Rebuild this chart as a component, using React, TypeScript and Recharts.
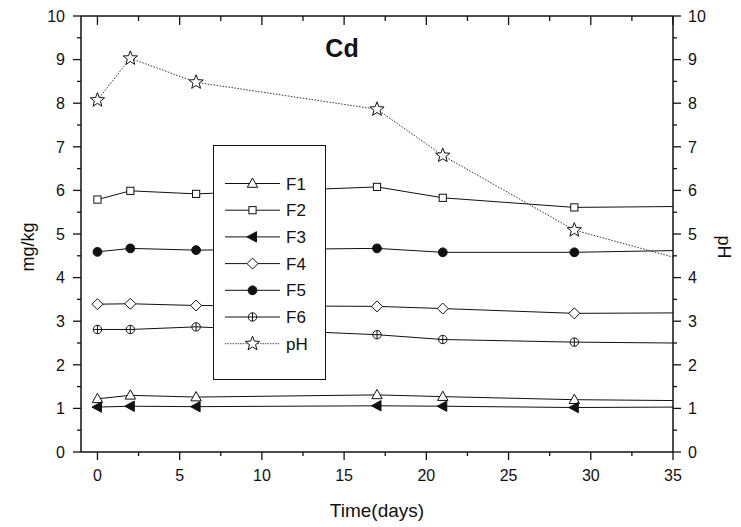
import React from 'react';
import { ComposedChart, Line, XAxis, YAxis, Legend, Label } from 'recharts';

// Sampling days and the measured fractions (mg/kg) plus pH
const days = [0, 2, 6, 17, 21, 29, 35];
const f1 = [1.22, 1.3, 1.26, 1.31, 1.27, 1.2, 1.18];
const f2 = [5.79, 5.99, 5.92, 6.08, 5.83, 5.61, 5.63];
const f3 = [1.03, 1.05, 1.04, 1.06, 1.05, 1.02, 1.03];
const f4 = [3.39, 3.4, 3.36, 3.34, 3.29, 3.18, 3.19];
const f5 = [4.59, 4.67, 4.63, 4.67, 4.58, 4.58, 4.62];
const f6 = [2.81, 2.81, 2.87, 2.69, 2.58, 2.52, 2.5];
const ph = [8.07, 9.03, 8.48, 7.86, 6.8, 5.09, 4.47];

const xTicks = [0, 2.5, 5, 7.5, 10, 12.5, 15, 17.5, 20, 22.5, 25, 27.5, 30, 32.5, 35];
const yTicks = [0, 0.5, 1, 1.5, 2, 2.5, 3, 3.5, 4, 4.5, 5, 5.5, 6, 6.5, 7, 7.5, 8, 8.5, 9, 9.5, 10];

const seriesNames = ['F1', 'F2', 'F3', 'F4', 'F5', 'F6', 'pH'];

const data = days.map((d, i) => ({
  day: d,
  F1: f1[i],
  F2: f2[i],
  F3: f3[i],
  F4: f4[i],
  F5: f5[i],
  F6: f6[i],
  pH: ph[i],
}));

const FONT = '"Liberation Sans", Arial, Helvetica, sans-serif';
const INK = '#111';

type MarkerKind = 'triUp' | 'square' | 'triLeft' | 'diamond' | 'circle' | 'circlePlus' | 'star';

const markerOf: Record<string, MarkerKind> = {
  F1: 'triUp',
  F2: 'square',
  F3: 'triLeft',
  F4: 'diamond',
  F5: 'circle',
  F6: 'circlePlus',
  pH: 'star',
};

function Marker({ kind, cx, cy }: { kind: MarkerKind; cx: number; cy: number }) {
  const s = { stroke: INK, strokeWidth: 1 };
  switch (kind) {
    case 'triUp':
      return (
        <polygon
          points={`${cx},${cy - 5.5} ${cx - 5.2},${cy + 3.8} ${cx + 5.2},${cy + 3.8}`}
          fill="#fff"
          {...s}
        />
      );
    case 'square':
      return <rect x={cx - 3.6} y={cy - 3.6} width={7.2} height={7.2} fill="#fff" {...s} />;
    case 'triLeft':
      return (
        <polygon
          points={`${cx - 5.5},${cy} ${cx + 4},${cy - 5.2} ${cx + 4},${cy + 5.2}`}
          fill={INK}
          {...s}
        />
      );
    case 'diamond':
      return (
        <polygon
          points={`${cx},${cy - 5.5} ${cx + 5.5},${cy} ${cx},${cy + 5.5} ${cx - 5.5},${cy}`}
          fill="#fff"
          {...s}
        />
      );
    case 'circle':
      return <circle cx={cx} cy={cy} r={4.4} fill={INK} {...s} />;
    case 'circlePlus':
      return (
        <g>
          <circle cx={cx} cy={cy} r={4.2} fill="#fff" {...s} />
          <line x1={cx - 4.2} y1={cy} x2={cx + 4.2} y2={cy} {...s} />
          <line x1={cx} y1={cy - 4.2} x2={cx} y2={cy + 4.2} {...s} />
        </g>
      );
    case 'star': {
      const pts: string[] = [];
      for (let k = 0; k < 10; k++) {
        const r = k % 2 === 0 ? 7.5 : 3.2;
        const a = -Math.PI / 2 + (k * Math.PI) / 5;
        pts.push(`${cx + r * Math.cos(a)},${cy + r * Math.sin(a)}`);
      }
      return <polygon points={pts.join(' ')} fill="#fff" {...s} />;
    }
  }
  return null;
}

// Markers on every sample except the last one, where the trace just ends
const makeDot = (name: string) => (props: any) => {
  const { cx, cy, index } = props;
  const key = `${name}-${index}`;
  if (index === days.length - 1 || cx == null || cy == null) return <g key={key} />;
  return (
    <g key={key}>
      <Marker kind={markerOf[name]} cx={cx} cy={cy} />
    </g>
  );
};

const MAJOR = 8;
const MINOR = 4;

const isMajorX = (v: number) => Math.abs(v % 5) < 1e-9;
const isMajorY = (v: number) => Math.abs(v % 1) < 1e-9;

const BottomTick = (p: any) => {
  const { x, y, payload } = p;
  const major = isMajorX(payload.value);
  return (
    <g>
      <line x1={x} y1={y} x2={x} y2={y + (major ? MAJOR : MINOR)} stroke={INK} strokeWidth={1.3} />
      {major && (
        <text x={x} y={y + 28.5} textAnchor="middle" fontFamily={FONT} fontSize={16} fill={INK}>
          {payload.value}
        </text>
      )}
    </g>
  );
};

const TopTick = (p: any) => {
  const { x, y, payload } = p;
  const major = isMajorX(payload.value);
  return <line x1={x} y1={y} x2={x} y2={y + (major ? MAJOR + 1 : MINOR + 1)} stroke={INK} strokeWidth={1.3} />;
};

const LeftTick = (p: any) => {
  const { x, y, payload } = p;
  const major = isMajorY(payload.value);
  return (
    <g>
      <line x1={x} y1={y} x2={x - (major ? MAJOR : MINOR)} y2={y} stroke={INK} strokeWidth={1.3} />
      {major && (
        <text x={x - 16} y={y} dy="0.36em" textAnchor="end" fontFamily={FONT} fontSize={16} fill={INK}>
          {payload.value}
        </text>
      )}
    </g>
  );
};

const RightTick = (p: any) => {
  const { x, y, payload } = p;
  const major = isMajorY(payload.value);
  return (
    <g>
      <line x1={x} y1={y} x2={x + (major ? MAJOR : MINOR)} y2={y} stroke={INK} strokeWidth={1.3} />
      {major && (
        <text x={x + 15} y={y} dy="0.36em" textAnchor="start" fontFamily={FONT} fontSize={16} fill={INK}>
          {payload.value}
        </text>
      )}
    </g>
  );
};

const LegendBox = (props: any) => {
  const payload: any[] = props.payload || [];
  const ordered = seriesNames
    .map((n) => payload.find((e) => e.dataKey === n || e.value === n))
    .filter(Boolean);
  const rowH = 26.7;
  return (
    <svg width={113} height={235} style={{ display: 'block', background: '#fff' }}>
      <rect x={0.5} y={0.5} width={112} height={234} fill="#fff" stroke={INK} strokeWidth={1} />
      {ordered.map((e: any, i: number) => {
        const name = String(e.value);
        const cy = 38.5 + i * rowH;
        const dashed = name === 'pH';
        return (
          <g key={name}>
            <line
              x1={12}
              y1={cy}
              x2={67}
              y2={cy}
              stroke={dashed ? '#555' : INK}
              strokeWidth={1}
              strokeDasharray={dashed ? '1.5 1' : undefined}
            />
            <Marker kind={markerOf[name]} cx={39.5} cy={cy} />
            <text x={73} y={cy} dy="0.36em" fontFamily={FONT} fontSize={17} fill={INK}>
              {name}
            </text>
          </g>
        );
      })}
    </svg>
  );
};

export default function App() {
  return (
    <div style={{ position: 'absolute', left: 0, top: 0, width: 741, height: 527, background: '#fff' }}>
      <ComposedChart width={741} height={527} data={data} margin={{ top: 0, right: 0, bottom: 0, left: 0 }}>
        <XAxis
          xAxisId="bottom"
          dataKey="day"
          type="number"
          domain={[-1, 35]}
          ticks={xTicks}
          interval={0}
          height={75}
          tickLine={false}
          tickSize={0}
          tickMargin={0}
          tick={<BottomTick />}
          axisLine={{ stroke: INK, strokeWidth: 1.5 }}
        >
          <Label
            content={(p: any) => {
              const vb = p.viewBox;
              return (
                <text
                  x={vb.x + vb.width / 2}
                  y={vb.y + 65}
                  textAnchor="middle"
                  fontFamily={FONT}
                  fontSize={19}
                  fill={INK}
                >
                  Time(days)
                </text>
              );
            }}
          />
        </XAxis>
        <XAxis
          xAxisId="top"
          orientation="top"
          dataKey="day"
          type="number"
          domain={[-1, 35]}
          ticks={xTicks}
          interval={0}
          height={16}
          tickLine={false}
          tickSize={0}
          tickMargin={0}
          tick={<TopTick />}
          axisLine={{ stroke: INK, strokeWidth: 1.5 }}
        />
        <YAxis
          yAxisId="left"
          type="number"
          domain={[0, 10]}
          ticks={yTicks}
          interval={0}
          width={81}
          tickLine={false}
          tickSize={0}
          tickMargin={0}
          tick={<LeftTick />}
          axisLine={{ stroke: INK, strokeWidth: 1.5 }}
        >
          <Label
            content={(p: any) => {
              const vb = p.viewBox;
              const cx = 28;
              const cy = vb.y + vb.height / 2 + 13;
              return (
                <text
                  x={cx}
                  y={cy}
                  transform={`rotate(-90 ${cx} ${cy})`}
                  textAnchor="middle"
                  dy="0.36em"
                  fontFamily={FONT}
                  fontSize={18}
                  fill={INK}
                >
                  mg/kg
                </text>
              );
            }}
          />
        </YAxis>
        <YAxis
          yAxisId="right"
          orientation="right"
          type="number"
          domain={[0, 10]}
          ticks={yTicks}
          interval={0}
          width={68}
          tickLine={false}
          tickSize={0}
          tickMargin={0}
          tick={<RightTick />}
          axisLine={{ stroke: INK, strokeWidth: 1.5 }}
        >
          <Label
            content={(p: any) => {
              const vb = p.viewBox;
              const cx = vb.x + 51;
              const cy = vb.y + vb.height / 2 + 13;
              return (
                <text
                  x={cx}
                  y={cy}
                  transform={`rotate(90 ${cx} ${cy})`}
                  textAnchor="middle"
                  dy="0.36em"
                  fontFamily={FONT}
                  fontSize={18}
                  fill={INK}
                >
                  pH
                </text>
              );
            }}
          />
        </YAxis>

        {seriesNames.slice(0, 6).map((n) => (
          <Line
            key={n}
            xAxisId="bottom"
            yAxisId="left"
            type="linear"
            dataKey={n}
            name={n}
            stroke={INK}
            strokeWidth={1}
            dot={makeDot(n)}
            activeDot={false}
            isAnimationActive={false}
            legendType="line"
          />
        ))}
        <Line
          xAxisId="top"
          yAxisId="right"
          type="linear"
          dataKey="pH"
          name="pH"
          stroke="#333"
          strokeWidth={1}
          strokeDasharray="1.5 1.5"
          dot={makeDot('pH')}
          activeDot={false}
          isAnimationActive={false}
          legendType="line"
        />

        <text x={342} y={57} textAnchor="middle" fontFamily={FONT} fontSize={25} fontWeight="bold" fill={INK}>
          Cd
        </text>

        <Legend
          layout="vertical"
          align="center"
          verticalAlign="middle"
          content={<LegendBox />}
          wrapperStyle={{ left: 213, top: 145, width: 113, height: 235, right: 'auto', bottom: 'auto' }}
        />
      </ComposedChart>
    </div>
  );
}
